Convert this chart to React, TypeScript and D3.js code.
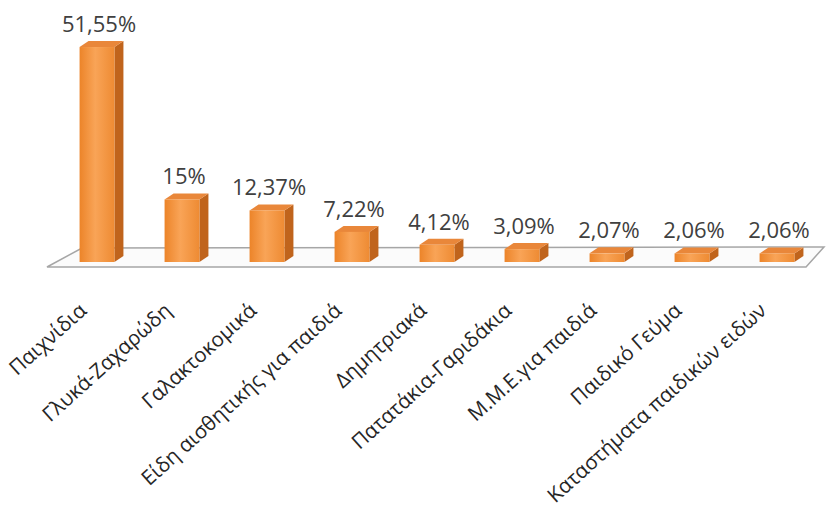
import * as d3 from 'd3';
import React, { useEffect, useRef } from 'react';

const categories = [
  'Παιχνίδια',
  'Γλυκά-Ζαχαρώδη',
  'Γαλακτοκομικά',
  'Είδη αισθητικής για παιδιά',
  'Δημητριακά',
  'Πατατάκια-Γαριδάκια',
  'Μ.Μ.Ε.για παιδιά',
  'Παιδικό Γεύμα',
  'Καταστήματα παιδικών ειδών',
];
const values = [51.55, 15, 12.37, 7.22, 4.12, 3.09, 2.07, 2.06, 2.06];
const valueLabels = ['51,55%', '15%', '12,37%', '7,22%', '4,12%', '3,09%', '2,07%', '2,06%', '2,06%'];

const W = 826;
const H = 516;

const App = () => {
  const svgRef = useRef<SVGSVGElement>(null);

  useEffect(() => {
    const svg = d3.select(svgRef.current);
    svg.selectAll('*').remove();

    const x = d3
      .scaleBand()
      .domain(categories)
      .range([54.5, 819.5])
      .paddingInner(0.59)
      .paddingOuter(0.295);

    const y = d3.scaleLinear().domain([0, 60]).range([262, 11.8]);

    const dx = 9;
    const dy = 6;

    const defs = svg.append('defs');
    const grad = defs
      .append('linearGradient')
      .attr('id', 'front')
      .attr('x1', 0)
      .attr('x2', 1)
      .attr('y1', 0)
      .attr('y2', 0);
    grad.append('stop').attr('offset', '0%').attr('stop-color', '#EC8429');
    grad.append('stop').attr('offset', '45%').attr('stop-color', '#F9A457');
    grad.append('stop').attr('offset', '100%').attr('stop-color', '#EE8B33');

    // floor
    const floorBack = 248;
    const floorFront = 267;
    svg
      .append('path')
      .attr(
        'd',
        `M82,${floorBack} L824,${floorBack - 1} L806,${floorFront} L47,${floorFront} Z`,
      )
      .attr('fill', '#fbfbfb')
      .attr('stroke', '#a6a6a6')
      .attr('stroke-width', 1.5);

    const g = svg.append('g');
    categories.forEach((c, i) => {
      const x0 = x(c) as number;
      const x1 = x0 + x.bandwidth();
      const yt = y(values[i]);
      const yb = y(0);
      // side
      g.append('path')
        .attr('d', `M${x1},${yt} L${x1 + dx},${yt - dy} L${x1 + dx},${yb - dy} L${x1},${yb} Z`)
        .attr('fill', '#C0641C');
      // top
      g.append('path')
        .attr('d', `M${x0},${yt} L${x0 + dx},${yt - dy} L${x1 + dx},${yt - dy} L${x1},${yt} Z`)
        .attr('fill', '#E9873A');
      // front
      g.append('rect')
        .attr('x', x0)
        .attr('y', yt)
        .attr('width', x.bandwidth())
        .attr('height', yb - yt)
        .attr('fill', 'url(#front)');
    });

    // value labels
    svg
      .append('g')
      .selectAll('text')
      .data(categories)
      .join('text')
      .attr('x', (d) => (x(d) as number) + x.bandwidth() / 2 + 2)
      .attr('y', (d, i) => y(values[i]) - 15)
      .attr('text-anchor', 'middle')
      .attr('font-family', '"Open Sans", sans-serif')
      .attr('font-size', 22)
      .attr('fill', '#404040')
      .text((d, i) => valueLabels[i]);

    // category labels
    svg
      .append('g')
      .selectAll('text')
      .data(categories)
      .join('text')
      .attr('transform', (d) => {
        const cx = (x(d) as number) + x.bandwidth() / 2 - 14;
        return `translate(${cx},307) rotate(-42)`;
      })
      .attr('dy', '0.35em')
      .attr('text-anchor', 'end')
      .attr('font-family', '"Open Sans", sans-serif')
      .attr('font-size', 20.5)
      .attr('fill', '#262626')
      .text((d) => d);
  }, []);

  return (
    <svg
      ref={svgRef}
      width={W}
      height={H}
      style={{ position: 'absolute', left: 0, top: 0, background: '#fff' }}
    ></svg>
  );
};

export default App;
